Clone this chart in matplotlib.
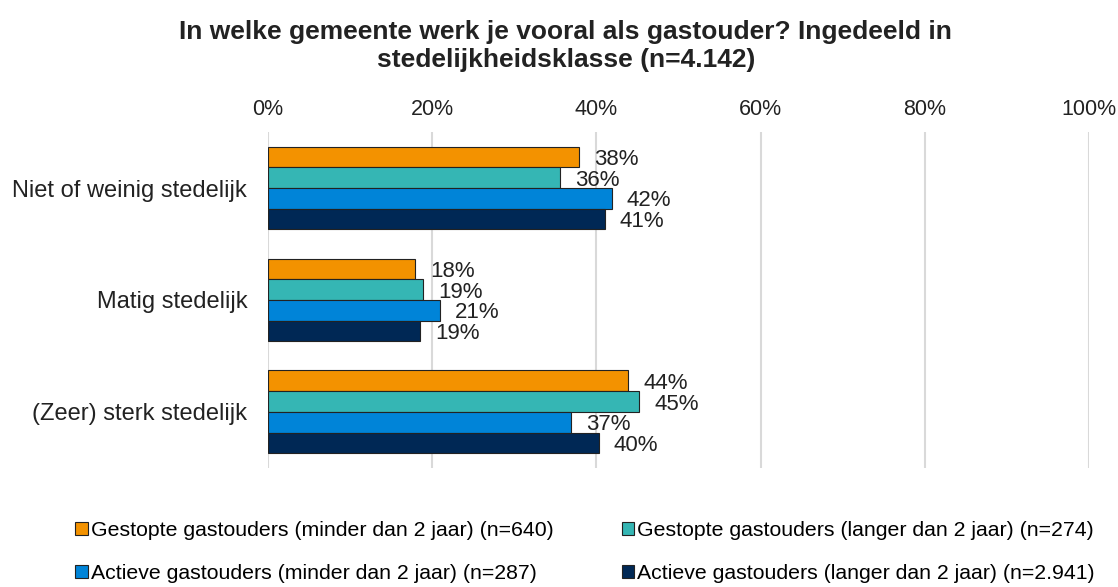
import matplotlib
matplotlib.use("Agg")
import matplotlib.pyplot as plt
import numpy as np

plt.rcParams["font.family"] = ["Liberation Sans", "DejaVu Sans"]

categories = ["Niet of weinig stedelijk", "Matig stedelijk", "(Zeer) sterk stedelijk"]
series_names = [
    "Gestopte gastouders (minder dan 2 jaar) (n=640)",
    "Gestopte gastouders (langer dan 2 jaar) (n=274)",
    "Actieve gastouders (minder dan 2 jaar) (n=287)",
    "Actieve gastouders (langer dan 2 jaar) (n=2.941)",
]
gestopt_kort = [37.9, 17.9, 43.9]
gestopt_lang = [35.6, 18.9, 45.2]
actief_kort = [41.9, 20.9, 36.9]
actief_lang = [41.0, 18.5, 40.3]
labels = [
    ["38%", "18%", "44%"],
    ["36%", "19%", "45%"],
    ["42%", "21%", "37%"],
    ["41%", "19%", "40%"],
]
xticks = [0, 20, 40, 60, 80, 100]
colors = ["#F39200", "#35B6B4", "#0084D8", "#002855"]

title = "In welke gemeente werk je vooral als gastouder? Ingedeeld in\nstedelijkheidsklasse (n=4.142)"

fig = plt.figure(figsize=(11.18, 5.87), dpi=100)
ax = fig.add_axes([0.2397, 0.203, 0.7343, 0.572])

series = [gestopt_kort, gestopt_lang, actief_kort, actief_lang]
y = np.arange(len(categories))
h = 0.185
handles = []
for i, vals in enumerate(series):
    pos = y + (i - 1.5) * h
    b = ax.barh(pos, vals, height=h, color=colors[i], edgecolor="#222222",
                linewidth=0.8, label=series_names[i], zorder=3)
    handles.append(b)
    for p, v, t in zip(pos, vals, labels[i]):
        ax.annotate(t, (v, p), xytext=(15, -2.5), textcoords="offset pixels",
                    va="center", ha="left", fontsize=16, color="#222222")

ax.set_xlim(0, 100)
ax.set_ylim(2.5, -0.5)
ax.set_yticks(y)
ax.set_yticklabels(categories, fontsize=17)
ax.set_xticks(xticks)
ax.set_xticklabels([f"{t}%" for t in xticks], fontsize=15.5)
ax.xaxis.tick_top()
ax.tick_params(axis="both", length=0, colors="#222222")
ax.tick_params(axis="x", pad=9)
ax.tick_params(axis="y", pad=15)
ax.grid(axis="x", color="#D9D9D9", linewidth=1.5, zorder=0)
for s in ax.spines.values():
    s.set_visible(False)

fig.text(0.506, 0.921, title, ha="center", va="center", fontsize=19,
         fontweight="bold", color="#222222", linespacing=1.2)

order = [0, 2, 1, 3]
fig.legend([handles[k] for k in order], [series_names[k] for k in order],
           loc="upper left", bbox_to_anchor=(0.058, 0.13), ncol=2, frameon=False,
           borderpad=0, fontsize=15.3, handlelength=0.58, handleheight=0.58,
           handletextpad=0.15, labelspacing=1.1, columnspacing=3.2)

fig.savefig("out.png", dpi=100)
